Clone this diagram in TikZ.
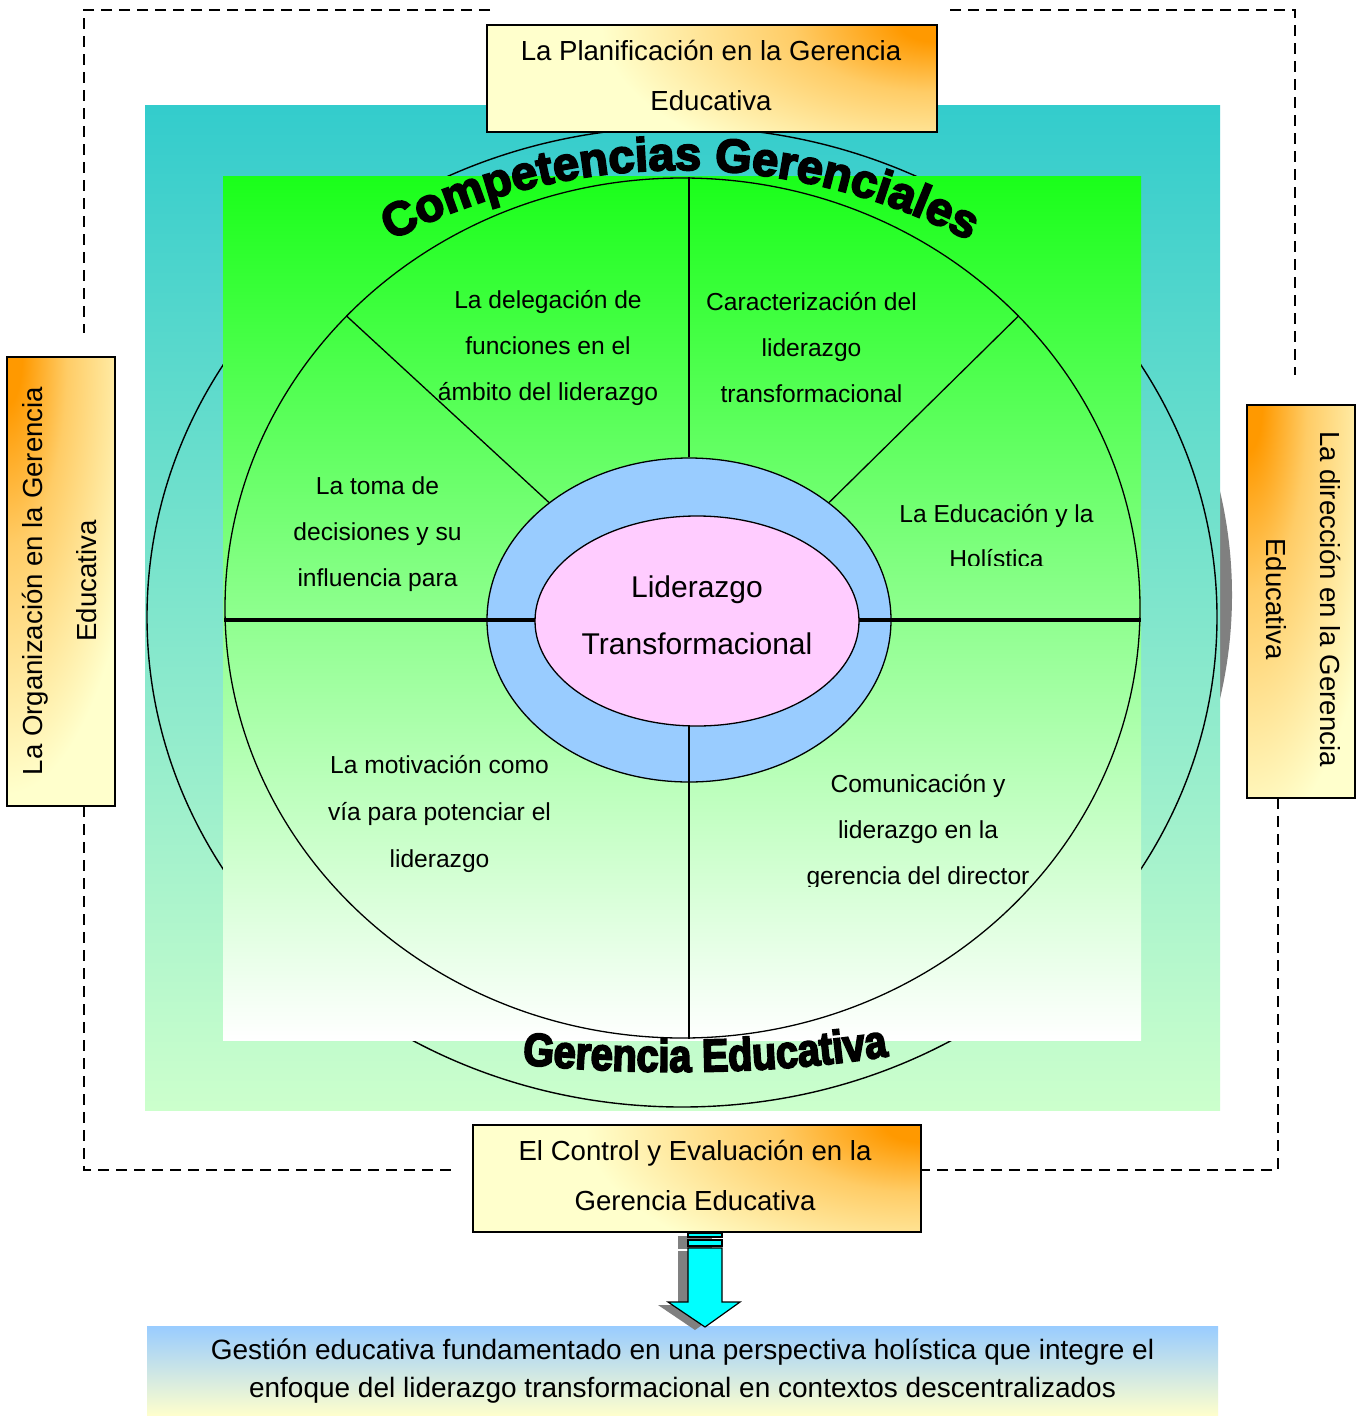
\documentclass[tikz,border=0pt]{standalone}
\usepackage{fontspec}
\setmainfont{Liberation Sans}
\newfontfamily\heavyfont[BoldFeatures={FakeBold=4}]{Liberation Sans}
\newfontfamily\heavycond[BoldFeatures={FakeBold=4, FakeStretch=0.86}]{Liberation Sans}
\usetikzlibrary{shapes.geometric,decorations.text}
\definecolor{tealtop}{HTML}{33CCCC}
\definecolor{mint}{HTML}{CCFFCC}
\definecolor{gtop}{HTML}{1AFF1A}
\definecolor{gmid}{HTML}{B9FFB9}
\definecolor{ringblue}{HTML}{99CCFF}
\definecolor{pinkc}{HTML}{FFCCFF}
\definecolor{boxyel}{HTML}{FFFFCC}
\definecolor{boxor}{HTML}{FF9900}
\definecolor{cyanc}{HTML}{00FFFF}
\definecolor{shadowgray}{HTML}{808080}
\pgfdeclareradialshading{cornerglow}{\pgfpoint{0bp}{0bp}}{color(0bp)=(boxor); color(1.5bp)=(boxor); color(6bp)=(boxor!50!boxyel); color(14bp)=(boxyel); color(50bp)=(boxyel)}
\begin{document}
\begin{tikzpicture}[x=1pt,y=-1pt,
  boxstyle/.style={draw, line width=1.2pt, fill=boxyel, inner sep=0pt},
  glowTR/.style={path picture={\shade[shading=cornerglow] (path picture bounding box.north east) ellipse [x radius=600, y radius=280];}},
  glowTL/.style={path picture={\shade[shading=cornerglow] (path picture bounding box.north west) ellipse [x radius=250, y radius=780];}},
  boxtext/.style={align=center, font=\fontsize{27.6}{50}\selectfont, inner sep=0pt},
  secttext/.style={align=center, font=\fontsize{24.6}{46}\selectfont, inner sep=0pt},
  sidetext/.style={align=center, font=\fontsize{27.6}{54}\selectfont, inner sep=0pt},
  divider/.style={line width=1.3pt},
  frameline/.style={line width=1.4pt, dash pattern=on 11pt off 7pt},
  arrowpart/.style={fill=cyanc, draw, line width=1.2pt, line join=miter},
  shadowpart/.style={fill=shadowgray},
]
\useasboundingbox (0,0) rectangle (1357,1416);
\fill[white] (0,0) rectangle (1357,1416);

% dashed frame
\draw[frameline] (490,10) -- (84,10) -- (84,333);
\draw[frameline] (84,806) -- (84,1170) -- (455,1170);
\draw[frameline] (950,10) -- (1295,10) -- (1295,375);
\draw[frameline] (1278,798) -- (1278,1170) -- (921,1170);

% outer field
\fill[shadowgray] (697,595) ellipse [x radius=535, y radius=490];
\shade[top color=tealtop, bottom color=mint] (145,105) rectangle (1220,1110);
\draw[line width=1.4pt] (682,617) ellipse [x radius=535, y radius=490];
\shade[top color=gtop, middle color=gmid, bottom color=white] (223,176) rectangle (1141,1040);

% wheel
\node[ellipse, draw, line width=1.3pt, inner sep=0pt, minimum width=915, minimum height=860] (wheel) at (682.5,608) {};
\node[ellipse, draw, fill=ringblue, line width=1.3pt, inner sep=0pt, minimum width=404, minimum height=324] (ring) at (689,620) {};
\draw[divider] (ring.north |- wheel.north) -- (ring.north);
\draw[divider] (wheel.139) -- (ring.140);
\draw[divider] (wheel.41) -- (ring.40);
\draw[line width=4.5pt] (wheel.west |- ring.center) -- (wheel.east |- ring.center);
\draw[divider] (ring.center) -- (ring.center |- wheel.south);
\node[ellipse, draw, fill=pinkc, line width=1.3pt, inner sep=0pt, minimum width=324, minimum height=210] (core) at (697,621) {};
\node[align=center, font=\fontsize{30}{57}\selectfont, inner sep=0pt] (coretext) at (697,615.5) {Liderazgo\\Transformacional};

% sector texts
\node[secttext] (deleg) at (548,348) {La delegación de\\funciones en el\\ámbito del liderazgo};
\node[secttext] (caract) at (811.5,348) {Caracterización del\\liderazgo\\transformacional};
\node[secttext] (toma) at (377.5,534) {La toma de\\decisiones y su\\influencia para};
\begin{scope}
  \clip (850,470) rectangle (1141,565);
  \node[secttext, font=\fontsize{24.6}{45}\selectfont] (educ) at (996.5,536.5) {La Educación y la\\Holística};
\end{scope}
\node[secttext, font=\fontsize{24.6}{47}\selectfont] (motiv) at (439.5,814) {La motivación como\\vía para potenciar el\\liderazgo};
\begin{scope}
  \clip (760,740) rectangle (1100,886);
  \node[secttext] (comun) at (918,832) {Comunicación y\\liderazgo en la\\gerencia del director};
\end{scope}

% arc titles
\path[decorate, decoration={text along path, text align=center,
  text={|\heavyfont\bfseries\fontsize{47}{47}\selectfont|Competencias Gerenciales}}]
  (278.3,316.2) arc[start angle=-130, end angle=-50, radius=625];
\path[decorate, decoration={text along path, text align=center,
  text={|\heavycond\bfseries\fontsize{46}{46}\selectfont|Gerencia Educativa}}]
  (470,1058) .. controls (610,1078) and (800,1078) .. (940,1046);

% boxes
\node[boxstyle, glowTR, minimum width=450, minimum height=107] (plan) at (712,78.5) {};
\node[boxtext] (plantext) at (711,75) {La Planificación en la Gerencia\\Educativa};
\node[boxstyle, glowTL, minimum width=108, minimum height=449] (org) at (61,581.5) {};
\node[sidetext, rotate=90] (orgtext) at (59,581) {La Organización en la Gerencia\\Educativa};
\node[boxstyle, glowTL, minimum width=108, minimum height=393] (dir) at (1301,601.5) {};
\node[sidetext, rotate=-90] (dirtext) at (1304,599) {La dirección en la Gerencia\\Educativa};
\node[boxstyle, glowTR, minimum width=448, minimum height=107] (ctrl) at (697,1178.5) {};
\node[boxtext] (ctrltext) at (695,1175.5) {El Control y Evaluación en la\\Gerencia Educativa};

% result
\node[top color=ringblue, bottom color=boxyel, minimum width=1071, minimum height=90, inner sep=0pt, align=center, font=\fontsize{28}{38}\selectfont] (result) at (682.5,1371) {Gestión educativa fundamentado en una perspectiva holística que integre el\\enfoque del liderazgo transformacional en contextos descentralizados};

% block arrow from ctrl to result
\begin{scope}[shift={(-10,3)}]
  \fill[shadowpart] (688,1233) rectangle (722,1246);
  \fill[shadowpart] (688,1248) -- (722,1248) -- (722,1302) -- (740,1302) -- (705,1327) -- (668,1302) -- (688,1302) -- cycle;
\end{scope}
\draw[arrowpart] (688,1233) rectangle (722,1237);
\draw[arrowpart] (688,1240) rectangle (722,1246);
\draw[arrowpart] (688,1248) -- (722,1248) -- (722,1302) -- (740,1302) -- (705,1327) -- (668,1302) -- (688,1302) -- cycle;
\end{tikzpicture}
\end{document}
